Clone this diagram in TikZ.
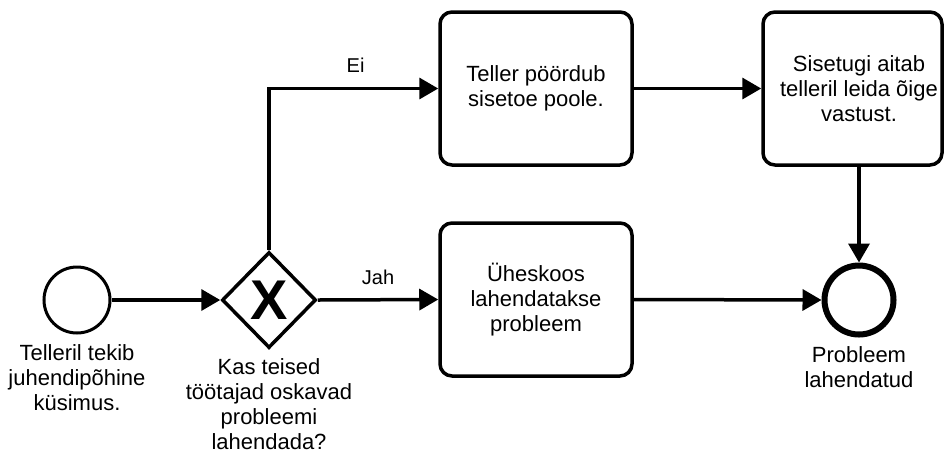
\documentclass[tikz,border=0pt]{standalone}
\usepackage{fontspec}
\setmainfont{Liberation Sans}
\usetikzlibrary{arrows.meta,shapes.geometric}
\begin{document}
\begin{tikzpicture}[x=1pt,y=-1pt,
  every node/.style={font=\fontsize{22}{25}\selectfont, align=center, inner sep=0pt},
  task/.style={draw, line width=3.5pt, rounded corners=12pt, minimum width=192pt, minimum height=153pt},
  flow/.style={line width=3.5pt, -{Triangle[length=19pt,width=21pt]}},
  edgelabel/.style={font=\fontsize{20}{23}\selectfont},
  caption/.style={font=\fontsize{22}{25}\selectfont}]
  \useasboundingbox (0,0) rectangle (947,459);

  % events and gateway
  \node[draw, circle, line width=3pt, minimum size=66pt] (start) at (77,300) {};
  \node[draw, diamond, line width=3.5pt, minimum width=94pt, minimum height=96pt] (gw) at (269,300) {};
  \node[font=\bfseries\fontsize{56}{56}\selectfont] (gwx) at (269,300) {X};
  \node[draw, circle, line width=6pt, minimum size=69pt] (end) at (859,300) {};

  % tasks
  \node[task] (t1) at (536,88.5) {Teller pöördub\\sisetoe poole.};
  \node[task, minimum width=179pt] (t2) at (852.5,88.5) {};
  \node (t2text) at (859,88.5) {Sisetugi aitab\\telleril leida õige\\vastust.};
  \node[task] (t3) at (536,299.5) {Üheskoos\\lahendatakse\\probleem};

  % captions
  \node[caption, anchor=north] (capstart) at (77,344) {Telleril tekib\\juhendipõhine\\küsimus.};
  \node[caption, anchor=north] (capgw) at (269,358) {Kas teised\\töötajad oskavad\\probleemi\\lahendada?};
  \node[caption, anchor=north] (capend) at (859,346) {Probleem\\lahendatud};

  % sequence flows
  \draw[flow] (start.east) -- (gw.west);
  \draw[flow] (gw.north) |- (t1.west) node[pos=0.75, edgelabel, above=14pt, xshift=2pt] {Ei};
  \draw[flow] (gw.east) -- (t3.west) node[midway, edgelabel, above=13pt] {Jah};
  \draw[flow] (t1.east) -- (t2.west);
  \draw[flow] (t3.east) -- (end.west);
  \draw[flow] (t2.south -| end.north) -- (end.north);
\end{tikzpicture}
\end{document}
